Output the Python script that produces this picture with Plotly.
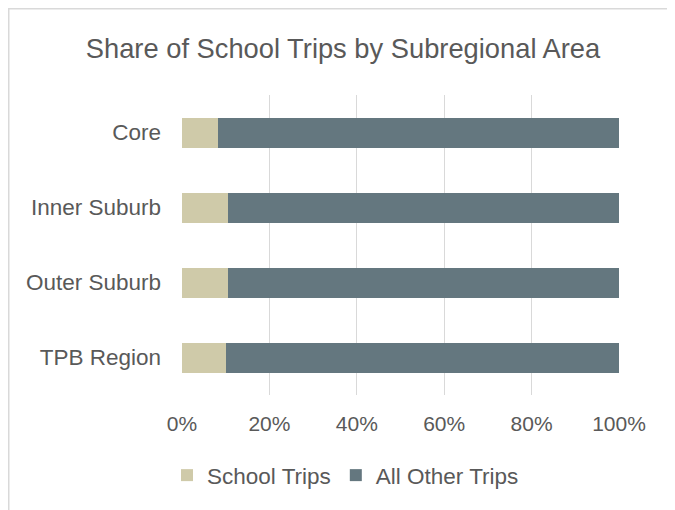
import plotly.graph_objects as go

categories = ["Core", "Inner Suburb", "Outer Suburb", "TPB Region"]
school_trips = [8.2, 10.6, 10.6, 10.1]
other_trips = [91.8, 89.4, 89.4, 89.9]
x_ticks = [0, 20, 40, 60, 80, 100]
x_tick_labels = ["0%", "20%", "40%", "60%", "80%", "100%"]

FONT = "Liberation Sans, Arial, sans-serif"
GREY = "#595959"

fig = go.Figure()
fig.add_trace(go.Bar(y=categories, x=school_trips, name="School Trips", orientation="h",
                     marker=dict(color="#cfcaa9", line=dict(width=0))))
fig.add_trace(go.Bar(y=categories, x=other_trips, name="All Other Trips", orientation="h",
                     marker=dict(color="#64777f", line=dict(width=0))))

# page has an 8px body margin; figure coordinates = page coordinates - 8
W, H = 667, 502
L, T = 174, 87
pw, ph = 437, 300
R = W - L - pw
B = H - T - ph

def px_x(v):
    return (v - L) / pw

def px_y(v):
    return (T + ph - v) / ph

fig.update_layout(
    width=W, height=H,
    barmode="stack", bargap=0.6,
    margin=dict(l=L, r=R, t=T, b=B, pad=0),
    paper_bgcolor="white", plot_bgcolor="white",
    font=dict(family=FONT, color=GREY, size=21),
    title=dict(text="Share of School Trips by Subregional Area", x=px_x(335), xref="paper",
               xanchor="center", y=1 - 40 / H, yanchor="middle",
               font=dict(size=27.3, color=GREY, family=FONT)),
    xaxis=dict(range=[0, 100], tickvals=x_ticks, ticktext=x_tick_labels,
               showgrid=True, gridcolor="#d9d9d9", gridwidth=1, zeroline=False,
               showline=False, ticks="", tickfont=dict(size=21, color=GREY),
               ticklabelstandoff=14, fixedrange=True),
    yaxis=dict(autorange="reversed", showgrid=False, showline=False, ticks="",
               tickfont=dict(size=22.5, color=GREY), ticklabelstandoff=20,
               fixedrange=True),
    legend=dict(orientation="h", x=px_x(159), xanchor="left", y=px_y(467.5),
                yanchor="middle", font=dict(size=22.5, color=GREY),
                itemwidth=30, traceorder="normal", bgcolor="rgba(0,0,0,0)"),
    showlegend=True,
    shapes=[dict(type="rect", xref="paper", yref="paper",
                 x0=px_x(0.75), x1=px_x(700), y0=px_y(530), y1=px_y(0.75),
                 line=dict(color="#d9d9d9", width=1.5), fillcolor="rgba(0,0,0,0)",
                 layer="below")],
)

fig.write_html("out.html")
